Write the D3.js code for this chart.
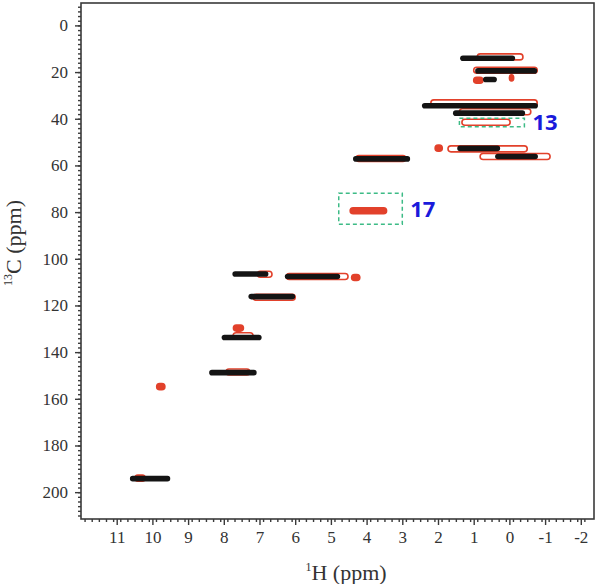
<!DOCTYPE html>
<html><head><meta charset="utf-8">
<script src="https://cdn.jsdelivr.net/npm/d3@7"></script>
<style>body{margin:0;background:#fff}svg{display:block}
.serif{font-family:"Liberation Serif","DejaVu Serif",serif}</style>
</head><body>
<script>
// Axis ticks
const hTicks = [11,10,9,8,7,6,5,4,3,2,1,0,-1,-2];
const cTicks = [0,20,40,60,80,100,120,140,160,180,200];
// Black contours: [H start, H end, 13C]
const blackH1 = [1.38, 0.96, 0.74, 2.45, 1.58, 1.46, 0.40, 4.38, 7.76, 6.29, 7.31, 8.06, 8.41, 10.63];
const blackH2 = [-0.16,-0.78, 0.35,-0.80,-0.44, 0.26,-0.80, 2.78, 6.75, 4.74, 6.00, 6.94, 7.08, 9.50];
const blackC  = [14.1, 19.5, 23.2, 34.4, 37.6, 52.7, 56.2, 57.2, 106.5, 107.6, 116.2, 133.7, 148.8, 194.2];
// Red contours: [H start, H end, 13C]
const redH1 = [0.90, 1.00, 1.00, 0.00, 2.20, 1.40, 1.33, 2.08, 1.72, 0.82, 4.30, 4.46, 7.06, 6.25, 4.42, 7.18, 7.73, 7.74, 7.94, 9.88, 10.49];
const redH2 = [-0.38,-0.78,0.74,-0.12,-0.78,-0.60,-0.02, 1.88,-0.50,-1.14, 2.90, 3.44, 6.65, 4.52, 4.19, 6.00, 7.45, 7.18, 7.27, 9.65, 10.20];
const redC  = [13.5, 19.2, 23.5, 22.5, 33.2, 37.0, 41.5, 52.6, 52.9, 56.2, 57.0, 79.4, 106.6, 107.6, 108.0, 116.5, 129.7, 133.0, 148.5, 154.8, 194.0];
// Highlighted regions: label, H range, C range
const boxLabels = ["13", "17"];
const boxH1 = [1.40, 4.78];
const boxH2 = [-0.42, 3.00];
const boxC1 = [39.8, 71.9];
const boxC2 = [43.4, 85.2];

const W = 600, H = 584;
const svg = d3.select("body").append("svg").attr("width", W).attr("height", H);
const x = d3.scaleLinear().domain([12, -2.37]).range([81, 594]);
const y = d3.scaleLinear().domain([-9.6, 211.5]).range([3, 519]);
const RED = "#e2412b";

// red contours (under the black ones)
const red = d3.range(redC.length).map(i => ({h1: redH1[i], h2: redH2[i], c: redC[i]}));
svg.append("g").selectAll("rect").data(red).join("rect")
  .attr("x", d => x(d.h1)).attr("width", d => x(d.h2) - x(d.h1))
  .attr("y", d => y(d.c) - 3).attr("height", 6).attr("rx", 3)
  .attr("fill", d => (x(d.h2) - x(d.h1) < 14 || d.c === 79.4) ? RED : "none")
  .attr("stroke", RED).attr("stroke-width", 1.6);

// black contours
const blk = d3.range(blackC.length).map(i => ({h1: blackH1[i], h2: blackH2[i], c: blackC[i]}));
svg.append("g").selectAll("rect").data(blk).join("rect")
  .attr("x", d => x(d.h1)).attr("width", d => x(d.h2) - x(d.h1))
  .attr("y", d => y(d.c) - 2.8).attr("height", 5.6).attr("rx", 2.8)
  .attr("fill", "#141414");

// frame
svg.append("rect").attr("x", x.range()[0]).attr("y", y.range()[0])
  .attr("width", x.range()[1]-x.range()[0]).attr("height", y.range()[1]-y.range()[0])
  .attr("fill", "none").attr("stroke", "#3a3a3a").attr("stroke-width", 1.6);

// ticks
const hMinor = d3.range(119, -23, -2).map(v => v/10);
const cMinor = d3.range(-8, 211, 2);
const gxm = svg.append("g").attr("transform", `translate(0,${y.range()[1]})`)
  .call(d3.axisBottom(x).tickValues(hMinor).tickSize(3).tickFormat(""));
const gym = svg.append("g").attr("transform", `translate(${x.range()[0]},0)`)
  .call(d3.axisLeft(y).tickValues(cMinor).tickSize(3).tickFormat(""));
const gx = svg.append("g").attr("transform", `translate(0,${y.range()[1]})`)
  .call(d3.axisBottom(x).tickValues(hTicks).tickSize(6).tickPadding(6).tickFormat(d => String(d)));
const gy = svg.append("g").attr("transform", `translate(${x.range()[0]},0)`)
  .call(d3.axisLeft(y).tickValues(cTicks).tickSize(6).tickPadding(7));
[gxm, gym, gx, gy].forEach(g => {
  g.attr("font-family", null).attr("font-size", null).attr("class", "serif");
  g.select(".domain").remove();
  g.selectAll("line").attr("stroke", "#3a3a3a").attr("stroke-width", 1.4);
  g.selectAll("text").attr("class", "serif").style("font-size", "17px").attr("fill", "#333");
});

// axis titles
const xt = svg.append("text").attr("class", "serif").attr("x", 346).attr("y", 580).attr("text-anchor", "middle")
  .style("font-size", "22px").attr("fill", "#333");
xt.append("tspan").style("font-size", "12px").attr("dy", -9).text("1");
xt.append("tspan").attr("dy", 9).text("H (ppm)");
const yt = svg.append("text").attr("class", "serif").attr("transform", "translate(21,243) rotate(-90)").attr("text-anchor", "middle")
  .style("font-size", "22px").attr("fill", "#333");
yt.append("tspan").style("font-size", "12px").attr("dy", -9).text("13");
yt.append("tspan").attr("dy", 9).text("C (ppm)");

// highlight boxes
const boxes = d3.range(boxLabels.length).map(i => ({l: boxLabels[i], h1: boxH1[i], h2: boxH2[i], c1: boxC1[i], c2: boxC2[i]}));
svg.append("g").selectAll("rect").data(boxes).join("rect")
  .attr("x", d => x(d.h1)).attr("width", d => x(d.h2) - x(d.h1))
  .attr("y", d => y(d.c1)).attr("height", d => y(d.c2) - y(d.c1))
  .attr("fill", "none").attr("stroke", "#3dbb86").attr("stroke-width", 1.5).attr("stroke-dasharray", "4,3");
svg.append("g").selectAll("text").data(boxes).join("text")
  .attr("x", d => x(d.h2) + 8).attr("y", d => (y(d.c1) + y(d.c2)) / 2 + 8)
  .style("font-family", "'Open Sans','Liberation Sans',sans-serif").attr("font-weight", "bold")
  .style("font-size", "22px").attr("fill", "#1a1adb").text(d => d.l);
</script>
</body></html>
